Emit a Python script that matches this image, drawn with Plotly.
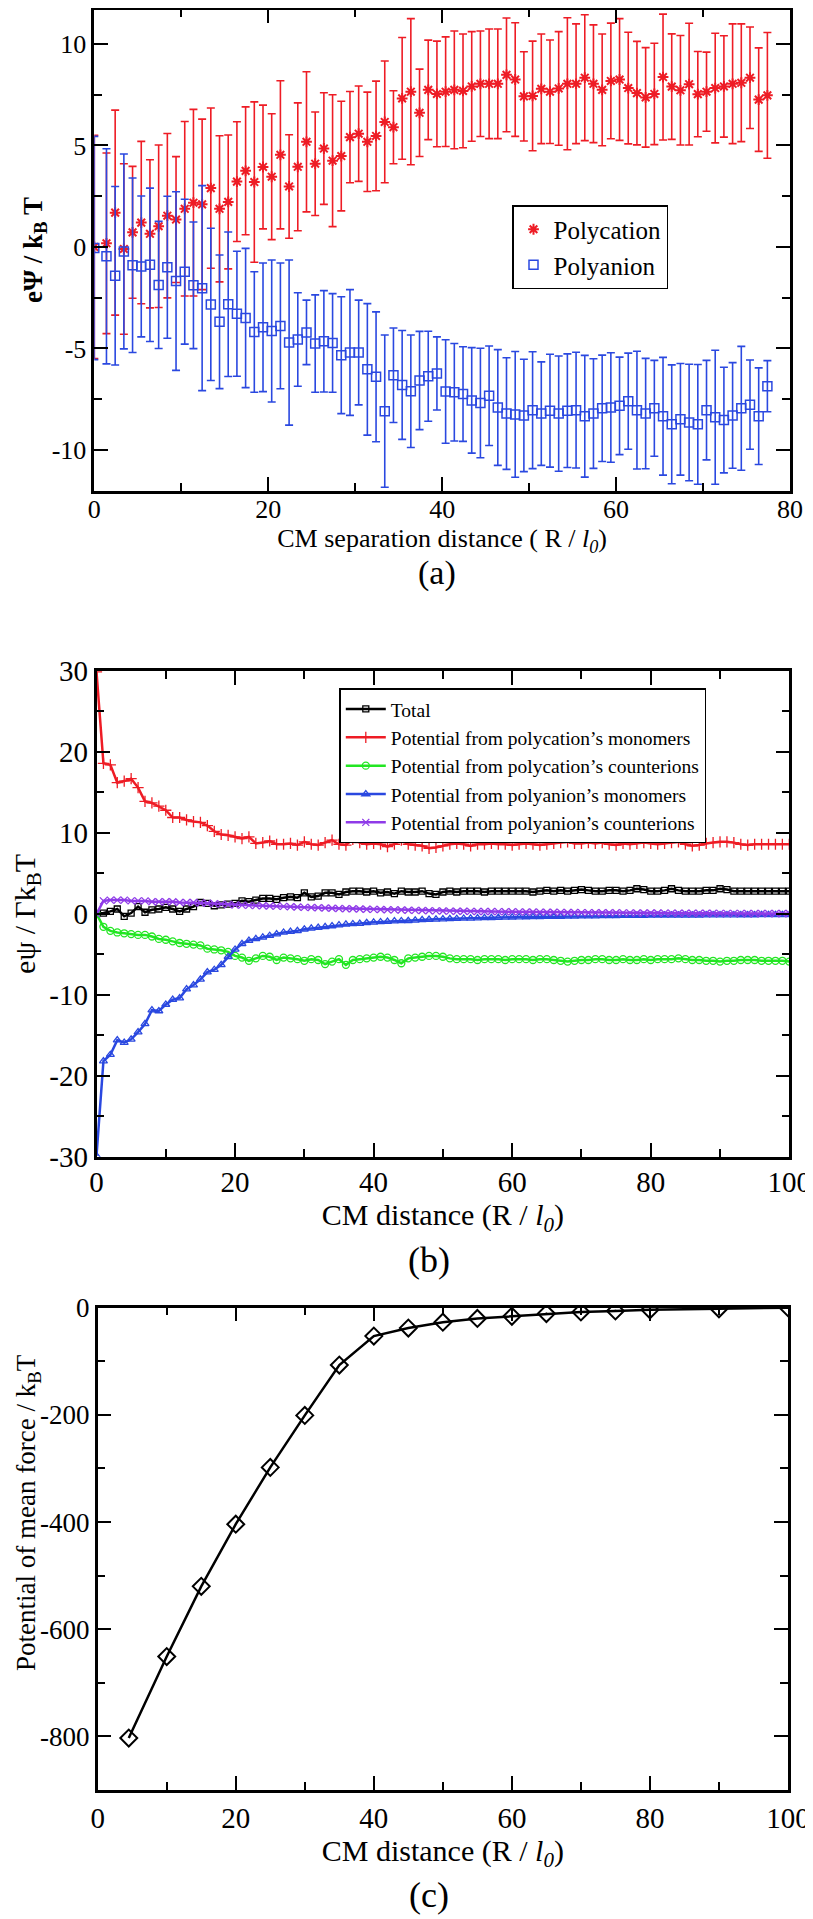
import plotly.graph_objects as go

# ---------------- Panel (a) data ----------------
x_a = [0.0, 1.4, 2.4, 3.4, 4.4, 5.4, 6.4, 7.4, 8.4, 9.4, 10.4, 11.4, 12.4, 13.4, 14.4, 15.4,
       16.4, 17.4, 18.4, 19.4, 20.4, 21.4, 22.4, 23.4, 24.4, 25.4, 26.4, 27.4, 28.4, 29.4,
       30.4, 31.4, 32.4, 33.4, 34.4, 35.4, 36.4, 37.4, 38.4, 39.4, 40.4, 41.4, 42.4, 43.4,
       44.4, 45.4, 46.4, 47.4, 48.4, 49.4, 50.4, 51.4, 52.4, 53.4, 54.4, 55.4, 56.4, 57.4,
       58.4, 59.4, 60.4, 61.4, 62.4, 63.4, 64.4, 65.4, 66.4, 67.4, 68.4, 69.4, 70.4, 71.4,
       72.4, 73.4, 74.4, 75.4, 76.4, 77.4]
polycation = [0.0, 0.18, 1.69, -0.1, 0.72, 1.2, 0.65, 1.02, 1.54, 1.35, 1.88, 2.18, 2.1, 2.9,
              1.88, 2.22, 3.22, 3.75, 3.2, 3.94, 3.46, 4.54, 2.98, 3.95, 5.18, 4.1, 4.85, 4.25,
              4.48, 5.41, 5.58, 5.18, 5.47, 6.16, 5.9, 7.32, 7.65, 6.61, 7.74, 7.54, 7.65, 7.74,
              7.69, 7.91, 8.04, 8.04, 8.04, 8.48, 8.25, 7.42, 7.44, 7.79, 7.65, 7.81, 8.04, 8.04,
              8.34, 8.04, 7.74, 8.18, 8.25, 7.83, 7.58, 7.37, 7.54, 8.37, 7.9, 7.72, 8.02, 7.53,
              7.65, 7.83, 7.91, 8.04, 8.09, 8.34, 7.26, 7.47]
polycation_err = [5.5, 4.45, 5.05, 4.2, 3.25, 4.0, 3.65, 4.0, 4.05, 3.1, 4.3, 4.6, 4.2, 3.95,
                  3.6, 3.3, 2.95, 3.15, 3.95, 3.05, 3.1, 3.65, 2.55, 3.15, 3.45, 2.55, 2.75,
                  3.25, 2.7, 2.25, 2.35, 2.45, 2.7, 3.0, 1.8, 3.0, 3.6, 2.15, 2.45, 2.6, 2.7,
                  2.9, 2.8, 2.7, 2.6, 2.7, 2.7, 2.8, 2.8, 2.2, 2.7, 2.7, 2.55, 2.8, 3.25, 2.95,
                  3.1, 2.9, 2.75, 2.85, 3.0, 2.75, 2.55, 2.45, 2.5, 3.1, 2.6, 2.7, 3.0, 2.1,
                  1.95, 2.7, 2.5, 2.95, 2.9, 2.5, 2.55, 3.1]
polyanion = [-0.05, -0.46, -1.42, -0.22, -0.9, -0.96, -0.88, -1.87, -1.0, -1.68, -1.22, -1.89,
             -2.03, -2.83, -3.69, -2.82, -3.29, -3.5, -4.19, -3.96, -4.14, -3.89, -4.71, -4.56,
             -4.21, -4.76, -4.65, -4.73, -5.33, -5.2, -5.2, -6.03, -6.4, -8.09, -6.32, -6.8,
             -7.11, -6.58, -6.37, -6.23, -7.12, -7.16, -7.25, -7.56, -7.69, -7.33, -7.91,
             -8.21, -8.25, -8.3, -8.04, -8.21, -8.07, -8.21, -8.07, -8.04, -8.34, -8.21, -7.95,
             -7.91, -7.83, -7.6, -8.04, -8.21, -7.95, -8.34, -8.74, -8.49, -8.65, -8.74, -8.04,
             -8.39, -8.53, -8.3, -7.95, -7.77, -8.34, -6.86]
polyanion_err = [5.5, 5.3, 4.4, 4.8, 4.3, 3.47, 3.78, 3.13, 3.5, 4.4, 3.57, 3.12, 5.05, 3.75,
                 3.29, 3.56, 3.08, 3.43, 2.97, 3.17, 3.5, 3.1, 4.07, 2.3, 1.59, 2.4, 2.5, 2.43,
                 2.88, 3.1, 2.58, 3.24, 3.2, 3.75, 2.33, 2.68, 2.77, 2.42, 2.22, 1.8, 2.55, 2.4,
                 2.33, 2.6, 2.7, 2.45, 2.85, 2.75, 3.1, 2.77, 2.88, 2.55, 2.78, 2.84, 2.8, 2.85,
                 3.0, 2.7, 2.62, 2.7, 2.4, 2.37, 2.9, 2.72, 2.36, 2.9, 2.93, 2.75, 2.87, 2.95,
                 2.45, 3.3, 2.6, 2.6, 3.05, 2.2, 2.38, 1.26]
ytick_a_vals = [-10, -5, 0, 5, 10]
ytick_a_text = ["-10", "-5", "0", "5", "10"]

# ---------------- Panel (b) data ----------------
x_b = [0, 1, 2, 3, 4, 5, 6, 7, 8, 9, 10, 11, 12, 13, 14, 15, 16, 17, 18, 19, 20, 21, 22, 23,
       24, 25, 26, 27, 28, 29, 30, 31, 32, 33, 34, 35, 36, 37, 38, 39, 40, 41, 42, 43, 44, 45,
       46, 47, 48, 49, 50, 51, 52, 53, 54, 55, 56, 57, 58, 59, 60, 61, 62, 63, 64, 65, 66, 67,
       68, 69, 70, 71, 72, 73, 74, 75, 76, 77, 78, 79, 80, 81, 82, 83, 84, 85, 86, 87, 88, 89,
       90, 91, 92, 93, 94, 95, 96, 97, 98, 99, 100]
total = [0.0, 0.1, 0.3, 0.6, -0.3, 0.1, 0.9, 0.2, 0.5, 0.6, 0.8, 0.6, 0.3, 0.6, 0.9, 1.4, 1.3,
         1.0, 1.1, 1.2, 1.3, 1.6, 1.5, 1.7, 1.9, 1.9, 1.8, 2.0, 2.1, 2.0, 2.6, 2.1, 2.2, 2.6,
         2.6, 2.4, 2.7, 2.8, 2.8, 2.7, 2.8, 2.6, 2.7, 2.5, 2.8, 2.7, 2.7, 2.8, 2.5, 2.4, 2.7,
         2.8, 2.7, 2.8, 2.8, 2.8, 2.7, 2.8, 2.8, 2.8, 2.8, 2.8, 2.8, 2.7, 2.8, 2.9, 2.8, 2.9,
         2.8, 2.9, 3.0, 2.9, 2.8, 2.8, 2.9, 2.9, 2.8, 2.9, 3.1, 3.0, 2.8, 2.8, 2.9, 3.1, 2.9,
         2.8, 2.8, 2.8, 2.9, 2.9, 3.1, 3.0, 2.8, 2.8, 2.8, 2.8, 2.8, 2.8, 2.8, 2.8, 2.8]
cation_monomers = [29.9, 18.6, 18.4, 16.2, 16.4, 16.7, 15.6, 13.9, 13.7, 13.3, 12.8, 11.9, 11.9,
                   11.6, 11.4, 11.3, 10.9, 10.2, 9.8, 9.7, 9.5, 9.3, 9.5, 8.7, 8.8, 9.0, 8.6,
                   8.6, 8.7, 8.5, 8.9, 8.6, 8.5, 8.8, 9.1, 8.6, 8.5, 9.2, 8.8, 8.6, 8.7, 8.6,
                   8.3, 8.6, 9.1, 8.6, 8.5, 8.4, 8.1, 8.2, 8.4, 8.6, 8.7, 8.6, 8.4, 8.6, 8.6,
                   8.7, 8.6, 8.6, 8.5, 8.6, 8.7, 8.6, 8.5, 8.6, 8.7, 8.8, 8.9, 8.7, 8.7, 8.8,
                   8.7, 8.8, 8.6, 8.5, 8.7, 8.6, 8.7, 8.8, 8.7, 8.6, 8.7, 8.8, 8.9, 8.6, 8.4,
                   8.5, 8.7, 8.8, 8.9, 8.9, 8.8, 8.6, 8.5, 8.6, 8.6, 8.6, 8.6, 8.6, 8.6]
cation_counterions = [0.0, -1.6, -2.1, -2.3, -2.4, -2.5, -2.6, -2.6, -2.8, -3.1, -3.2, -3.4,
                      -3.6, -3.7, -3.8, -3.9, -4.3, -4.4, -4.5, -4.7, -5.2, -5.4, -5.8, -5.5,
                      -5.2, -5.3, -5.7, -5.4, -5.5, -5.6, -5.8, -5.6, -5.7, -6.2, -5.9, -5.6,
                      -6.3, -5.7, -5.6, -5.5, -5.4, -5.3, -5.4, -5.7, -6.1, -5.5, -5.4, -5.3,
                      -5.2, -5.2, -5.3, -5.5, -5.6, -5.6, -5.6, -5.7, -5.6, -5.6, -5.6, -5.7,
                      -5.6, -5.6, -5.6, -5.7, -5.6, -5.6, -5.7, -5.8, -5.9, -5.8, -5.7, -5.7,
                      -5.6, -5.6, -5.7, -5.7, -5.6, -5.7, -5.7, -5.6, -5.7, -5.6, -5.6, -5.6,
                      -5.5, -5.6, -5.7, -5.7, -5.8, -5.8, -5.9, -5.8, -5.8, -5.7, -5.7, -5.7,
                      -5.8, -5.8, -5.8, -5.8, -5.9]
anion_monomers = [-29.9, -18.2, -17.4, -15.6, -15.9, -15.5, -14.6, -13.6, -11.9, -12.0, -11.2,
                  -10.6, -10.4, -9.3, -8.8, -8.1, -7.2, -6.9, -6.3, -5.3, -4.4, -3.7, -3.3,
                  -3.1, -2.9, -2.7, -2.5, -2.3, -2.2, -2.1, -1.9, -1.8, -1.7, -1.6, -1.5, -1.4,
                  -1.3, -1.25, -1.2, -1.1, -1.05, -1.0, -0.95, -0.9, -0.88, -0.85, -0.8,
                  -0.75, -0.7, -0.68, -0.65, -0.62, -0.6, -0.57, -0.55, -0.52, -0.5, -0.48,
                  -0.46, -0.44, -0.42, -0.4, -0.39, -0.38, -0.36, -0.35, -0.34, -0.33, -0.32,
                  -0.3, -0.29, -0.28, -0.27, -0.26, -0.25, -0.24, -0.23, -0.22, -0.22, -0.21,
                  -0.2, -0.2, -0.19, -0.19, -0.18, -0.18, -0.17, -0.17, -0.16, -0.16, -0.15,
                  -0.15, -0.15, -0.14, -0.14, -0.14, -0.13, -0.13, -0.13, -0.12, -0.12]
anion_counterions = [0.0, 1.6, 1.7, 1.7, 1.7, 1.6, 1.6, 1.6, 1.5, 1.5, 1.5, 1.5, 1.4, 1.4, 1.4,
                     1.35, 1.3, 1.25, 1.2, 1.15, 1.1, 1.08, 1.05, 1.02, 1.0, 0.98, 0.95, 0.92,
                     0.88, 0.85, 0.8, 0.78, 0.75, 0.72, 0.7, 0.66, 0.64, 0.62, 0.6, 0.57, 0.55,
                     0.53, 0.51, 0.49, 0.47, 0.45, 0.43, 0.41, 0.39, 0.37, 0.35, 0.34, 0.33,
                     0.32, 0.31, 0.3, 0.29, 0.28, 0.27, 0.26, 0.25, 0.24, 0.23, 0.22, 0.21, 0.2,
                     0.19, 0.18, 0.17, 0.16, 0.15, 0.15, 0.14, 0.14, 0.13, 0.13, 0.12, 0.12,
                     0.11, 0.11, 0.1, 0.1, 0.09, 0.09, 0.08, 0.08, 0.08, 0.07, 0.07, 0.07, 0.06,
                     0.06, 0.06, 0.06, 0.05, 0.05, 0.05, 0.05, 0.05, 0.05, 0.05]
ytick_b_vals = [-30, -20, -10, 0, 10, 20, 30]
ytick_b_text = ["-30", "-20", "-10", "0", "10", "20", "30"]

# ---------------- Panel (c) data ----------------
x_c = [4.5, 10, 15, 20, 25, 30, 35, 40, 45, 50, 55, 60, 65, 70, 75, 80, 90, 100]
pmf = [-803, -651, -520, -404, -298, -201, -107, -53, -38, -27, -20, -16, -11, -8, -6, -4, -2, 0]
pmf_err = [0, 0, 0, 0, 0, 0, 0, 0, 0, 0, 0, 2, 2, 2, 2, 14, 2, 0]
ytick_c_vals = [-800, -600, -400, -200, 0]
ytick_c_text = ["-800", "-600", "-400", "-200", "0"]

# ---------------- Styling ----------------
FONT = "Liberation Serif, Times New Roman, serif"
RED = "#ee1c25"
BLUE = "#2a48e0"
GREEN = "#22e622"
PURPLE = "#8f3be8"
PAGE_OFF = 8          # the page body margin
W, H = 805, 1911      # figure size so that figure + margin fills the 813x1919 window


def px_x(p):
    return (p - PAGE_OFF) / W


def px_y(p):
    return min(1.0, 1 - (p - PAGE_OFF) / H)


def axis(domain, rng, dtick, minor_dtick, tick_size, anchor, tickvals=None, ticktext=None):
    d = dict(
        domain=domain, range=rng, anchor=anchor,
        automargin=False,
        showline=True, linecolor="black", linewidth=2.5, mirror="allticks",
        ticks="inside", ticklen=14, tickwidth=2, tickcolor="black",
        minor=dict(ticks="inside", ticklen=8, tickwidth=2, tickcolor="black",
                   tickmode="linear", dtick=minor_dtick, tick0=0),
        showgrid=False, zeroline=False,
        tickfont=dict(family=FONT, size=tick_size, color="black"),
    )
    if tickvals is not None:
        d.update(tickmode="array", tickvals=tickvals, ticktext=ticktext)
    else:
        d.update(tickmode="linear", dtick=dtick, tick0=0)
    return d


fig = go.Figure()

# Panel (a)
fig.add_trace(go.Scatter(
    x=x_a, y=polycation, mode="markers", name="Polycation",
    marker=dict(symbol="asterisk-open", size=9, color=RED, line=dict(color=RED, width=2)),
    error_y=dict(type="data", array=polycation_err, color=RED, thickness=1.6, width=4),
    xaxis="x", yaxis="y", legend="legend"))
fig.add_trace(go.Scatter(
    x=x_a, y=polyanion, mode="markers", name="Polyanion",
    marker=dict(symbol="square-open", size=9, color=BLUE, line=dict(color=BLUE, width=1.5)),
    error_y=dict(type="data", array=polyanion_err, color=BLUE, thickness=1.6, width=4),
    xaxis="x", yaxis="y", legend="legend"))

# Panel (b)
series_b = [
    ("Total", total, "black", "square-open", 6),
    ("Potential from polycation\u2019s monomers", cation_monomers, RED, "cross-thin-open", 8),
    ("Potential from polycation\u2019s counterions", cation_counterions, GREEN, "circle-open", 7),
    ("Potential from polyanion\u2019s monomers", anion_monomers, BLUE, "triangle-up-open", 7),
    ("Potential from polyanion\u2019s counterions", anion_counterions, PURPLE, "x-thin-open", 7),
]
for name, ys, col, sym, sz in series_b:
    fig.add_trace(go.Scatter(
        x=x_b, y=ys, mode="lines+markers", name=name,
        line=dict(color=col, width=2.5),
        marker=dict(symbol=sym, size=sz, color=col, line=dict(color=col, width=1.3)),
        xaxis="x2", yaxis="y2", legend="legend2"))

# Panel (c)
fig.add_trace(go.Scatter(
    x=x_c, y=pmf, mode="lines+markers", name="PMF", showlegend=False,
    line=dict(color="black", width=2.5),
    marker=dict(symbol="diamond-open", size=13, color="black", line=dict(color="black", width=2)),
    error_y=dict(type="data", array=pmf_err, color="black", thickness=1.5, width=0),
    xaxis="x3", yaxis="y3"))

# panel (a): the reference's top edge lies above the page margin, so the frame
# starts at 9.5 px and the range top is trimmed to keep the same scale
xa = axis([px_x(94.3), px_x(790)], [0, 80], 20, 10, 26, "y")
xa["ticklabelstandoff"] = -6
xa["title"] = dict(text="CM separation distance ( R / <i>l</i><sub><i>0</i></sub>)",
                   font=dict(family=FONT, size=26, color="black"), standoff=0)
ya = axis([px_y(490.5), px_y(9.5)], [-12, 11.7], 5, 2.5, 26, "x", ytick_a_vals, ytick_a_text)
ya["title"] = dict(text="<b>e\u03a8 / k<sub>B</sub> T</b>",
                   font=dict(family=FONT, size=27, color="black"), standoff=2)

xb = axis([px_x(96.5), px_x(789.3)], [0, 100], 20, 10, 29, "y2")
xb["ticklabelstandoff"] = -2
xb["title"] = dict(text="CM distance (R / <i>l<sub>0</sub></i>)",
                   font=dict(family=FONT, size=30, color="black"), standoff=0)
yb = axis([px_y(1156.7), px_y(671)], [-30, 30], 10, 5, 29, "x2", ytick_b_vals, ytick_b_text)
yb["title"] = dict(text="e\u03c8 / \u0393k<sub>B</sub>T",
                   font=dict(family=FONT, size=30, color="black"), standoff=6)

xc = axis([px_x(97.7), px_x(788)], [0, 100], 20, 10, 29, "y3")
xc["title"] = dict(text="CM distance (R / <i>l<sub>0</sub></i>)",
                   font=dict(family=FONT, size=30, color="black"), standoff=0)
yc = axis([px_y(1790), px_y(1307.7)], [-900, 0], 200, 100, 27, "x3", ytick_c_vals, ytick_c_text)

fig.update_layout(
    width=W, height=H,
    margin=dict(l=0, r=0, t=0, b=0),
    paper_bgcolor="white", plot_bgcolor="white",
    font=dict(family=FONT, color="black"),
    xaxis=xa, yaxis=ya, xaxis2=xb, yaxis2=yb, xaxis3=xc, yaxis3=yc,
    legend=dict(x=px_x(512), y=px_y(205), xanchor="left", yanchor="top",
                bgcolor="white", bordercolor="black", borderwidth=1.5,
                font=dict(family=FONT, size=25, color="black"), itemwidth=30),
    legend2=dict(x=px_x(339.3), y=px_y(688.3), xanchor="left", yanchor="top",
                 bgcolor="white", bordercolor="black", borderwidth=1.5,
                 font=dict(family=FONT, size=19.5, color="black"), itemwidth=40),
    showlegend=True,
    annotations=[
        dict(text="Potential of mean force / k<sub>B</sub>T", textangle=-90,
             x=px_x(28), y=px_y(1513), xref="paper", yref="paper",
             xanchor="center", yanchor="middle", showarrow=False,
             font=dict(family=FONT, size=27, color="black")),
        dict(text="(a)", x=px_x(437), y=px_y(573), xref="paper", yref="paper",
             xanchor="center", yanchor="middle",
             showarrow=False, font=dict(family=FONT, size=34, color="black")),
        dict(text="(b)", x=px_x(429), y=px_y(1260), xref="paper", yref="paper",
             xanchor="center", yanchor="middle",
             showarrow=False, font=dict(family=FONT, size=36, color="black")),
        dict(text="(c)", x=px_x(429), y=px_y(1895), xref="paper", yref="paper",
             xanchor="center", yanchor="middle",
             showarrow=False, font=dict(family=FONT, size=36, color="black")),
    ],
)

fig.write_html("out.html")
